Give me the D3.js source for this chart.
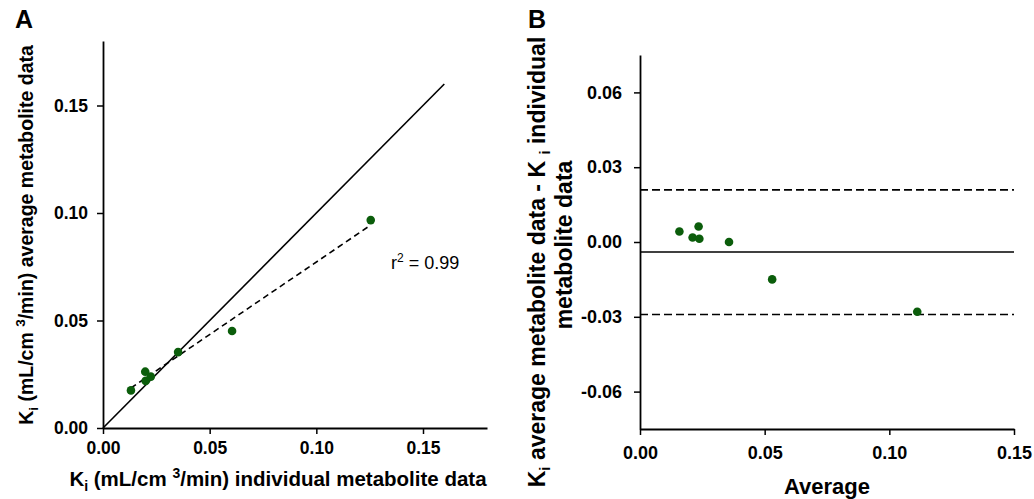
<!DOCTYPE html>
<html>
<head>
<meta charset="utf-8">
<script src="https://cdn.jsdelivr.net/npm/d3@7"></script>
<style>
  body { margin: 0; background: #fff; }
  svg { font-family: "Liberation Sans", Arial, sans-serif; }
</style>
</head>
<body>
<div id="visualization"></div>
<script>
// Panel A: Ki from average vs individual metabolite data
const kiIndividual = [0.0131, 0.0198, 0.0200, 0.0224, 0.0352, 0.0605, 0.1255];
const kiAverage    = [0.0175, 0.0262, 0.0219, 0.0239, 0.0353, 0.0451, 0.0967];
const identityEnds = [0, 0.16];
const regressionX  = [0.0131, 0.1255];
const regressionY  = [0.0186, 0.0944];
const ticksA = [0, 0.05, 0.10, 0.15];

// Panel B: Bland-Altman
const baAverage = [0.0158, 0.0211, 0.0235, 0.0238, 0.0357, 0.0530, 0.1112];
const baDiff    = [0.0042, 0.0018, 0.0062, 0.0013, 0.0000, -0.0150, -0.0280];
const meanDiff  = -0.0040;
const limits    = [0.0209, -0.0291];
const ticksBx = [0, 0.05, 0.10, 0.15];
const ticksBy = [-0.06, -0.03, 0, 0.03, 0.06];

const W = 1034, H = 499;
const green = "#0b5d0b";
const fmt = d => d.toFixed(2);

const svg = d3.select("#visualization").append("svg")
    .attr("width", W)
    .attr("height", H);

function styleAxis(g, size) {
    g.selectAll(".domain").attr("stroke", "#000").attr("stroke-width", 1.8);
    g.selectAll(".tick line").attr("stroke", "#000").attr("stroke-width", 1.5);
    g.selectAll(".tick text")
        .attr("fill", "#000")
        .attr("font-size", size + "px")
        .attr("font-weight", "bold")
        .attr("font-family", "Liberation Sans, Arial, sans-serif");
}

// ---------- Panel A ----------
const xA = d3.scaleLinear().domain([0, 0.18]).range([103, 487]);
const yA = d3.scaleLinear().domain([0, 0.18]).range([428, 41]);

svg.append("g")
    .attr("transform", `translate(0,${yA(0)})`)
    .call(d3.axisBottom(xA).tickValues(ticksA).tickFormat(fmt).tickSize(6).tickPadding(8).tickSizeOuter(0))
    .call(g => styleAxis(g, 17.5));

svg.append("g")
    .attr("transform", `translate(${xA(0)},0)`)
    .call(d3.axisLeft(yA).tickValues(ticksA).tickFormat(fmt).tickSize(6).tickPadding(9).tickSizeOuter(0))
    .call(g => styleAxis(g, 17.5));

// line of identity
svg.append("line")
    .attr("x1", xA(identityEnds[0])).attr("y1", yA(identityEnds[0]))
    .attr("x2", xA(identityEnds[1])).attr("y2", yA(identityEnds[1]))
    .attr("stroke", "#000").attr("stroke-width", 1.6);

// regression line
svg.append("line")
    .attr("x1", xA(regressionX[0])).attr("y1", yA(regressionY[0]))
    .attr("x2", xA(regressionX[1])).attr("y2", yA(regressionY[1]))
    .attr("stroke", "#000").attr("stroke-width", 1.6)
    .attr("stroke-dasharray", "6,4");

svg.append("g").selectAll("circle")
    .data(d3.range(kiIndividual.length))
    .enter().append("circle")
    .attr("cx", i => xA(kiIndividual[i]))
    .attr("cy", i => yA(kiAverage[i]))
    .attr("r", 4.3)
    .attr("fill", green);

const r2 = svg.append("text")
    .attr("x", 391).attr("y", 269)
    .attr("font-size", "18px");
r2.append("tspan").text("r");
r2.append("tspan").attr("dy", -7).attr("font-size", "12px").text("2");
r2.append("tspan").attr("dy", 7).text(" = 0.99");

// axis titles A
const xtA = svg.append("text")
    .attr("x", 278).attr("y", 486)
    .attr("text-anchor", "middle")
    .attr("font-size", "20.5px").attr("font-weight", "bold");
xtA.append("tspan").text("K");
xtA.append("tspan").attr("dy", 5).attr("font-size", "14px").text("i");
xtA.append("tspan").attr("dy", -5).text(" (mL/cm ");
xtA.append("tspan").attr("dy", -8).attr("font-size", "14px").text("3");
xtA.append("tspan").attr("dy", 8).text("/min) individual metabolite data");

const ytA = svg.append("text")
    .attr("transform", "translate(33,235) rotate(-90)")
    .attr("text-anchor", "middle")
    .attr("font-size", "19.5px").attr("font-weight", "bold");
ytA.append("tspan").text("K");
ytA.append("tspan").attr("dy", 5).attr("font-size", "13.5px").text("i");
ytA.append("tspan").attr("dy", -5).text(" (mL/cm ");
ytA.append("tspan").attr("dy", -8).attr("font-size", "13.5px").text("3");
ytA.append("tspan").attr("dy", 8).text("/min) average metabolite data");

svg.append("text")
    .attr("x", 15).attr("y", 28)
    .attr("font-size", "25px").attr("font-weight", "bold")
    .text("A");

// ---------- Panel B ----------
const xB = d3.scaleLinear().domain([0, 0.15]).range([640, 1014]);
const yB = d3.scaleLinear().domain([-0.075, 0.075]).range([429, 55]);

svg.append("g")
    .attr("transform", `translate(0,${yB(-0.075)})`)
    .call(d3.axisBottom(xB).tickValues(ticksBx).tickFormat(fmt).tickSize(6).tickPadding(11).tickSizeOuter(0))
    .call(g => styleAxis(g, 18));

svg.append("g")
    .attr("transform", `translate(${xB(0)},0)`)
    .call(d3.axisLeft(yB).tickValues(ticksBy).tickFormat(fmt).tickSize(6).tickPadding(12).tickSizeOuter(0))
    .call(g => styleAxis(g, 18));

svg.append("line")
    .attr("x1", xB(0)).attr("x2", xB(0.15))
    .attr("y1", yB(meanDiff)).attr("y2", yB(meanDiff))
    .attr("stroke", "#000").attr("stroke-width", 1.6);

svg.append("g").selectAll("line")
    .data(limits)
    .enter().append("line")
    .attr("x1", xB(0)).attr("x2", xB(0.15))
    .attr("y1", d => yB(d)).attr("y2", d => yB(d))
    .attr("stroke", "#000").attr("stroke-width", 1.6)
    .attr("stroke-dasharray", "8,4");

svg.append("g").selectAll("circle")
    .data(d3.range(baAverage.length))
    .enter().append("circle")
    .attr("cx", i => xB(baAverage[i]))
    .attr("cy", i => yB(baDiff[i]))
    .attr("r", 4.3)
    .attr("fill", green);

svg.append("text")
    .attr("x", 827).attr("y", 494)
    .attr("text-anchor", "middle")
    .attr("font-size", "22px").attr("font-weight", "bold")
    .text("Average");

// two-line rotated title for panel B
const ytB1 = svg.append("text")
    .attr("transform", "translate(545,262) rotate(-90)")
    .attr("text-anchor", "middle")
    .attr("font-size", "23px").attr("font-weight", "bold");
ytB1.append("tspan").text("K");
ytB1.append("tspan").attr("dy", 5).attr("font-size", "15px").text("i");
ytB1.append("tspan").attr("dy", -5).text(" average metabolite data - K ");
ytB1.append("tspan").attr("dy", 5).attr("font-size", "15px").text("i");
ytB1.append("tspan").attr("dy", -5).text(" individual");

svg.append("text")
    .attr("transform", "translate(572,245) rotate(-90)")
    .attr("text-anchor", "middle")
    .attr("font-size", "23px").attr("font-weight", "bold")
    .text("metabolite data");

svg.append("text")
    .attr("x", 528).attr("y", 28)
    .attr("font-size", "25px").attr("font-weight", "bold")
    .text("B");
</script>
</body>
</html>
